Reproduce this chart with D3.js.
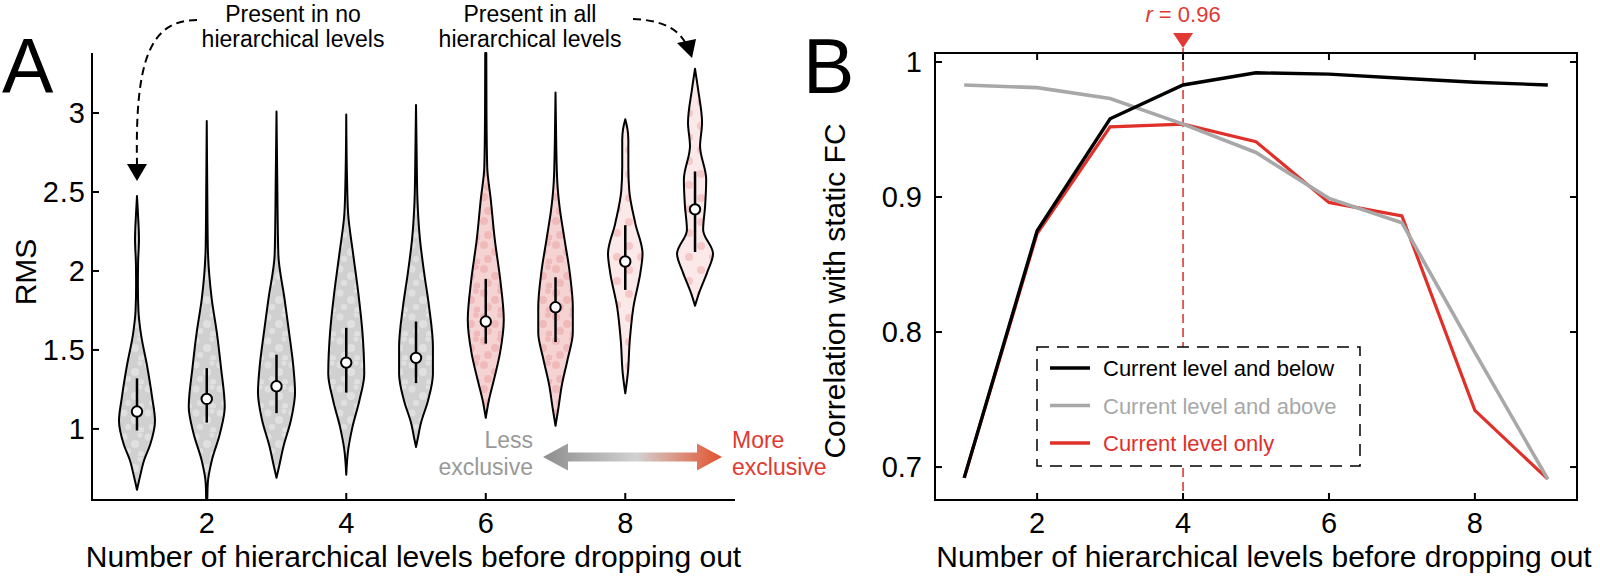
<!DOCTYPE html>
<html><head><meta charset="utf-8">
<script src="https://cdn.jsdelivr.net/npm/d3@7"></script>
<style>
body{margin:0;background:#fff}
text{font-family:"Liberation Sans",Arial,Helvetica,sans-serif}
</style>
</head><body>
<svg id="c" width="1600" height="578"></svg>
<script>
// ---------------- DATA ----------------
const levels = [1,2,3,4,5,6,7,8,9];
// violin outlines: [RMS value, relative density] from top to bottom
const violinDensity = [
  [[2.475,0],[2.35,0.06],[2.2,0.11],[2.05,0.06],[1.9,0.05],[1.75,0.08],[1.6,0.22],[1.4,0.56],[1.2,0.84],[1.05,1.0],[0.9,0.73],[0.8,0.39],[0.7,0.17],[0.614,0]],
  [[2.95,0],[2.5,0.03],[2.15,0.06],[1.82,0.28],[1.61,0.56],[1.39,0.79],[1.14,1.0],[0.97,0.73],[0.8,0.28],[0.66,0.06],[0.55,0.03]],
  [[3.01,0],[2.6,0.04],[2.11,0.1],[1.82,0.45],[1.61,0.7],[1.39,0.94],[1.23,1.03],[1.06,0.81],[0.89,0.39],[0.76,0.14],[0.69,0]],
  [[2.99,0],[2.6,0.04],[2.37,0.1],[2.11,0.38],[1.86,0.67],[1.61,0.9],[1.35,1.0],[1.18,0.73],[1.01,0.34],[0.87,0.11],[0.71,0]],
  [[3.05,0],[2.7,0.04],[2.45,0.08],[2.2,0.22],[1.99,0.45],[1.77,0.73],[1.52,0.94],[1.35,0.94],[1.18,0.67],[1.04,0.28],[0.93,0.08],[0.886,0]],
  [[3.38,0.03],[3.0,0.04],[2.66,0.08],[2.45,0.28],[2.2,0.5],[1.94,0.81],[1.69,1.0],[1.48,0.79],[1.31,0.45],[1.18,0.17],[1.07,0]],
  [[3.13,0],[2.8,0.04],[2.56,0.1],[2.41,0.22],[2.2,0.5],[1.99,0.79],[1.77,0.96],[1.61,0.96],[1.44,0.67],[1.27,0.34],[1.14,0.17],[1.02,0]],
  [[2.96,0],[2.9,0.12],[2.83,0.17],[2.66,0.17],[2.51,0.22],[2.3,0.56],[2.11,0.96],[1.99,0.84],[1.77,0.45],[1.56,0.25],[1.35,0.14],[1.225,0]],
  [[3.28,0],[3.15,0.17],[2.94,0.39],[2.79,0.28],[2.58,0.62],[2.41,0.56],[2.26,0.45],[2.11,1.0],[1.99,0.67],[1.86,0.22],[1.78,0]]
];
const violinMean = [1.11,1.19,1.27,1.42,1.45,1.68,1.77,2.06,2.39];
const violinLow  = [0.99,1.04,1.10,1.23,1.29,1.54,1.55,1.88,2.12];
const violinHigh = [1.32,1.385,1.47,1.64,1.68,1.95,1.96,2.29,2.63];
const exclusiveGroup = ["less","less","less","less","less","more","more","moreSparse","moreSparse"];
const rmsTicks = [1,1.5,2,2.5,3];
const levelTicks = [2,4,6,8];
const corrTicks = [0.7,0.8,0.9,1];
const belowSeries = [0.692,0.875,0.958,0.983,0.992,0.991,0.988,0.985,0.983];
const aboveSeries = [0.983,0.981,0.973,0.954,0.933,0.899,0.881,0.785,0.691];
const onlySeries  = [0.692,0.873,0.952,0.954,0.941,0.896,0.886,0.742,0.691];
const legendLabels = ["Current level and below","Current level and above","Current level only"];
const peakLevel = 4;
const peakLabel = "0.96";
const xLabel = "Number of hierarchical levels before dropping out";

// ---------------- SETUP ----------------
const svg = d3.select("#c");
const defs = svg.append("defs");
const AX = 2;

function makePattern(id, base, dot, op, pts){
  const p = defs.append("pattern").attr("id",id).attr("patternUnits","userSpaceOnUse").attr("width",24).attr("height",24);
  p.append("rect").attr("width",24).attr("height",24).attr("fill",base);
  pts.forEach(q=>p.append("circle").attr("cx",q[0]).attr("cy",q[1]).attr("r",q[2]).attr("fill",dot).attr("opacity",op));
}
makePattern("pLess","#d0d0d0","#efefef",0.5,[[4,5,3.5],[15,12,4],[8,19,3],[21,22,3],[20,3,2.5]]);
makePattern("pMore","#f6d3d3","#ec9c9c",0.45,[[4,5,4],[15,12,4],[8,19,4],[21,22,3.5],[20,3,3]]);
makePattern("pMoreSparse","#fbe8e8","#ef9f9f",0.45,[[5,6,4],[17,17,4]]);
const fillFor = {less:"url(#pLess)",more:"url(#pMore)",moreSparse:"url(#pMoreSparse)"};

const grad = defs.append("linearGradient").attr("id","gArrow").attr("gradientUnits","userSpaceOnUse")
  .attr("x1",543).attr("x2",722).attr("y1",0).attr("y2",0);
[[0,"#8d8d8d"],[0.52,"#d2d2d2"],[1,"#e2522e"]].forEach(s=>grad.append("stop").attr("offset",s[0]).attr("stop-color",s[1]));

// ---------------- PANEL A ----------------
const xA = d3.scaleLinear().domain([0.355,9.573]).range([92,735]);
const yA = d3.scaleLinear().domain([0.55,3.38]).range([500,53]);
const wA = d3.scaleLinear().domain([0,1]).range([0,18]);
const gA = svg.append("g");

levels.forEach((lv,i)=>{
  const cx = xA(lv);
  const area = d3.area().curve(d3.curveMonotoneY)
    .y(d=>yA(d[0])).x0(d=>cx-wA(d[1])).x1(d=>cx+wA(d[1]));
  gA.append("path").attr("d",area(violinDensity[i]))
    .attr("fill",fillFor[exclusiveGroup[i]]).attr("stroke","#000").attr("stroke-width",2).attr("stroke-linejoin","round");
  gA.append("line").attr("x1",cx).attr("x2",cx).attr("y1",yA(violinLow[i])).attr("y2",yA(violinHigh[i]))
    .attr("stroke","#000").attr("stroke-width",2.5);
  gA.append("circle").attr("cx",cx).attr("cy",yA(violinMean[i])).attr("r",5.2)
    .attr("fill","#fff").attr("stroke","#000").attr("stroke-width",2);
});

// axes A (left + bottom, inward ticks)
const axA = gA.append("g").attr("stroke","#000").attr("stroke-width",AX).attr("fill","none");
axA.append("line").attr("x1",92).attr("x2",92).attr("y1",53).attr("y2",501);
axA.append("line").attr("x1",91).attr("x2",735).attr("y1",500).attr("y2",500);
rmsTicks.forEach(t=>axA.append("line").attr("x1",92).attr("x2",99).attr("y1",yA(t)).attr("y2",yA(t)));
levelTicks.forEach(t=>axA.append("line").attr("x1",xA(t)).attr("x2",xA(t)).attr("y1",500).attr("y2",493));
rmsTicks.forEach(t=>gA.append("text").attr("x",86).attr("y",yA(t)+10).attr("text-anchor","end")
  .attr("font-size",29).attr("letter-spacing",1).text(t));
levelTicks.forEach(t=>gA.append("text").attr("x",xA(t)).attr("y",533).attr("text-anchor","middle")
  .attr("font-size",29).text(t));
gA.append("text").attr("x",(92+735)/2).attr("y",567).attr("text-anchor","middle").attr("font-size",30).text(xLabel);
gA.append("text").attr("transform","translate(36,272) rotate(-90)").attr("text-anchor","middle").attr("font-size",30).text("RMS");
gA.append("text").attr("x",2).attr("y",93).attr("font-size",77).text("A");

// annotations A
const ann = [["Present in no","hierarchical levels",293],["Present in all","hierarchical levels",530]];
ann.forEach(a=>{
  gA.append("text").attr("x",a[2]).attr("y",22).attr("text-anchor","middle").attr("font-size",23).text(a[0]);
  gA.append("text").attr("x",a[2]).attr("y",47).attr("text-anchor","middle").attr("font-size",23).text(a[1]);
});
const x1 = xA(1), x9 = xA(9);
gA.append("path").attr("d",`M197,20 C150,20 ${x1-2},60 ${x1},164`).attr("fill","none")
  .attr("stroke","#000").attr("stroke-width",2).attr("stroke-dasharray","8,5");
gA.append("path").attr("d",`M${x1-10},164 L${x1+10},164 L${x1},181 Z`).attr("fill","#000");
gA.append("path").attr("d",`M633,19 C660,20 678,28 686,44`).attr("fill","none")
  .attr("stroke","#000").attr("stroke-width",2).attr("stroke-dasharray","8,5");
gA.append("path").attr("d",`M677,43 L696,39 L${x9-3},58 Z`).attr("fill","#000");

// exclusivity arrow
gA.append("path").attr("d","M543,457 L568,443.5 L568,452.5 L697,452.5 L697,443.5 L722,457 L697,470.5 L697,461.5 L568,461.5 L568,470.5 Z")
  .attr("fill","url(#gArrow)");
gA.append("text").attr("x",533).attr("y",448).attr("text-anchor","end").attr("font-size",23).attr("fill","#999").text("Less");
gA.append("text").attr("x",533).attr("y",475).attr("text-anchor","end").attr("font-size",23).attr("fill","#999").text("exclusive");
gA.append("text").attr("x",732).attr("y",448).attr("font-size",23).attr("fill","#e03a32").text("More");
gA.append("text").attr("x",732).attr("y",475).attr("font-size",23).attr("fill","#e03a32").text("exclusive");

// ---------------- PANEL B ----------------
const L=935,R=1577,T=53,B=500;
const xB = d3.scaleLinear().domain([0.6,9.4]).range([L,R]);
const yB = d3.scaleLinear().domain([0.6756,1.00667]).range([B,T]);
const gB = svg.append("g");

// peak marker dashed line
gB.append("line").attr("x1",xB(peakLevel)).attr("x2",xB(peakLevel)).attr("y1",48).attr("y2",B)
  .attr("stroke","#e03a32").attr("stroke-width",1.6).attr("stroke-dasharray","9,5");
gB.append("path").attr("d",`M${xB(peakLevel)-10},33 L${xB(peakLevel)+10},33 L${xB(peakLevel)},48 Z`).attr("fill","#e03a32");
const rt = gB.append("text").attr("x",xB(peakLevel)).attr("y",22).attr("text-anchor","middle").attr("font-size",22).attr("fill","#e03a32");
rt.append("tspan").attr("font-style","italic").text("r");
rt.append("tspan").text(" = " + peakLabel);

const lineGen = d3.line().x((d,i)=>xB(levels[i])).y(d=>yB(d));
const series = [
  {v:onlySeries, c:"#e0302a", w:3.2},
  {v:aboveSeries, c:"#a8a8a8", w:3.6},
  {v:belowSeries, c:"#000", w:3.4}
];
series.forEach(s=>gB.append("path").attr("d",lineGen(s.v)).attr("fill","none").attr("stroke",s.c)
  .attr("stroke-width",s.w).attr("stroke-linejoin","miter"));

// legend
const lg = gB.append("g");
lg.append("rect").attr("x",1037).attr("y",347).attr("width",323).attr("height",119)
  .attr("fill","#fff").attr("stroke","#000").attr("stroke-width",1.5).attr("stroke-dasharray","12,8");
const legColors = ["#000","#a8a8a8","#e0302a"];
legendLabels.forEach((t,i)=>{
  const yy = 368 + i*37.5;
  lg.append("line").attr("x1",1050).attr("x2",1090).attr("y1",yy).attr("y2",yy).attr("stroke",legColors[i]).attr("stroke-width",3.5);
  lg.append("text").attr("x",1103).attr("y",yy+8).attr("font-size",22).attr("fill",legColors[i]).text(t);
});

// box axes with inward ticks
const axB = gB.append("g").attr("stroke","#000").attr("stroke-width",AX).attr("fill","none");
axB.append("rect").attr("x",L).attr("y",T).attr("width",R-L).attr("height",B-T);
corrTicks.forEach(t=>{
  axB.append("line").attr("x1",L).attr("x2",L+7).attr("y1",yB(t)).attr("y2",yB(t));
  axB.append("line").attr("x1",R).attr("x2",R-7).attr("y1",yB(t)).attr("y2",yB(t));
});
levelTicks.forEach(t=>{
  axB.append("line").attr("x1",xB(t)).attr("x2",xB(t)).attr("y1",B).attr("y2",B-7);
  axB.append("line").attr("x1",xB(t)).attr("x2",xB(t)).attr("y1",T).attr("y2",T+7);
});
corrTicks.forEach(t=>gB.append("text").attr("x",922).attr("y",yB(t)+10).attr("text-anchor","end")
  .attr("font-size",29).text(t===1?"1":t.toFixed(1)));
levelTicks.forEach(t=>gB.append("text").attr("x",xB(t)).attr("y",533).attr("text-anchor","middle")
  .attr("font-size",29).text(t));
gB.append("text").attr("x",(L+R)/2+8).attr("y",567).attr("text-anchor","middle").attr("font-size",30).text(xLabel);
gB.append("text").attr("transform","translate(845,291) rotate(-90)").attr("text-anchor","middle").attr("font-size",30).text("Correlation with static FC");
gB.append("text").attr("x",803).attr("y",93).attr("font-size",77).text("B");
</script>
</body></html>
